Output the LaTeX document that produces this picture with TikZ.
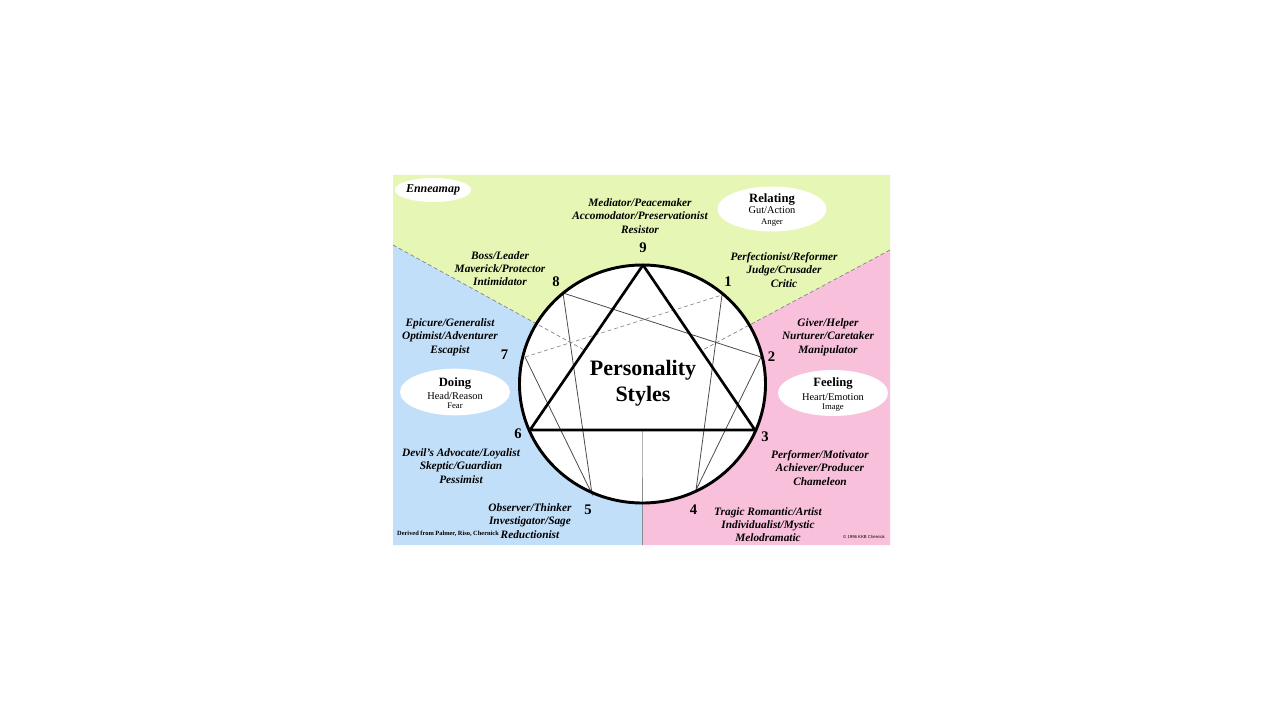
\documentclass[tikz,border=0pt]{standalone}
\usepackage{fontspec}
\setmainfont{Liberation Serif}
\newfontfamily\smallsans{Liberation Sans}
\usetikzlibrary{shapes.geometric}
\definecolor{gutgreen}{RGB}{230,246,180}
\definecolor{headblue}{RGB}{194,223,250}
\definecolor{heartpink}{RGB}{249,192,220}
\begin{document}
\begin{tikzpicture}[x=0.75pt,y=-0.75pt,
    typ/.style={font=\fontsize{8.5}{10}\selectfont\bfseries\itshape,align=center,inner sep=0pt},
    num/.style={font=\fontsize{11}{12}\selectfont\bfseries,inner sep=0pt},
    oval/.style={ellipse,fill=white,inner sep=0pt},
    centre/.style={font=\fontsize{9.5}{10}\selectfont\bfseries,inner sep=0pt,anchor=base},
    sub/.style={font=\fontsize{7.8}{9}\selectfont,inner sep=0pt,anchor=base},
    subsub/.style={font=\fontsize{6.5}{7}\selectfont,inner sep=0pt,anchor=base},
    arm/.style={line width=.6pt,draw=black!70},
    side/.style={line width=2pt,line join=round},
    seam/.style={draw=black!50,line width=.5pt,densely dashed}]
\useasboundingbox (0,0) rectangle (1280,720);
\fill[white] (0,0) rectangle (1280,720);
\coordinate (nw) at (393,175);
\coordinate (ne) at (890,175);
\coordinate (sw) at (393,545);
\coordinate (se) at (890,545);
\coordinate (c) at (642.5,382);
\coordinate (lray) at (393,245);
\coordinate (rray) at (890,250);
\coordinate (bray) at (642.5,545);
\fill[gutgreen] (nw) -- (ne) -- (rray) -- (c) -- (lray) -- cycle;
\fill[headblue] (lray) -- (c) -- (bray) -- (sw) -- cycle;
\fill[heartpink] (rray) -- (c) -- (bray) -- (se) -- cycle;
\fill[white] (642.5,384) ellipse [x radius=123,y radius=119];
\coordinate (p9) at (643,265);
\coordinate (p1) at (722,295);
\coordinate (p2) at (761,357);
\coordinate (p3) at (755,430);
\coordinate (p4) at (696,490);
\coordinate (p5) at (592,494);
\coordinate (p6) at (530,430);
\coordinate (p7) at (525,357);
\coordinate (p8) at (563,293);
\draw[seam] (lray) -- (intersection of p9--p6 and c--lray);
\draw[seam] (rray) -- (intersection of p9--p3 and c--rray);
\draw[draw=black!45,line width=.5pt] (bray) -- (intersection of p6--p3 and c--bray);
\draw[arm] (p1) -- (p4) -- (p2) -- (p8) -- (p5) -- (p7);
\draw[draw=black!45,line width=.5pt,densely dashed] (p7) -- (p1);
\draw[side] (p9) -- (p3) -- (p6) -- cycle;
\draw[line width=2.2pt] (642.5,384) ellipse [x radius=123,y radius=119];
\node[font=\fontsize{16.5}{19.5}\selectfont\bfseries,align=center] (title) at (643,383) {Personality\\Styles};
\node[num] (n9) at (643,248) {9};
\node[num] (n1) at (728,282) {1};
\node[num] (n2) at (771.5,356.5) {2};
\node[num] (n3) at (765,436.5) {3};
\node[num] (n4) at (693.5,510) {4};
\node[num] (n5) at (588,510) {5};
\node[num] (n6) at (518,433.5) {6};
\node[num] (n7) at (504.5,355) {7};
\node[num] (n8) at (556,282) {8};
\node[typ] (t9) at (640,216) {Mediator/Peacemaker\\Accomodator/Preservationist\\Resistor};
\node[typ] (t1) at (784,270) {Perfectionist/Reformer\\Judge/Crusader\\Critic};
\node[typ] (t2) at (828,337) {Giver/Helper\\Nurturer/Caretaker\\Manipulator};
\node[typ] (t3) at (820,468) {Performer/Motivator\\Achiever/Producer\\Chameleon};
\node[typ] (t4) at (768,524.5) {Tragic Romantic/Artist\\Individualist/Mystic\\Melodramatic};
\node[typ] (t5) at (530,521) {Observer/Thinker\\Investigator/Sage\\Reductionist};
\node[typ] (t6) at (461,466) {Devil's Advocate/Loyalist\\Skeptic/Guardian\\Pessimist};
\node[typ] (t7) at (450,337) {Epicure/Generalist\\Optimist/Adventurer\\Escapist};
\node[typ] (t8) at (500,268.5) {Boss/Leader\\Maverick/Protector\\Intimidator};
\node[oval,minimum width=52.5pt,minimum height=18pt,font=\fontsize{9}{10}\selectfont\bfseries\itshape] (map) at (433,190) {Enneamap};
\node[oval,minimum width=81.75pt,minimum height=33.75pt] (relating) at (772,209) {};
\node[centre] (relating-t) at (772,202.5) {Relating};
\node[sub] (relating-s) at (772,213.5) {Gut/Action};
\node[subsub] (relating-f) at (772,224.6) {Anger};
\node[oval,minimum width=82.5pt,minimum height=35pt] (doing) at (455,392) {};
\node[centre] (doing-t) at (455,386) {Doing};
\node[sub] (doing-s) at (455,399.2) {Head/Reason};
\node[subsub] (doing-f) at (455,408.6) {Fear};
\node[oval,minimum width=82.5pt,minimum height=34.5pt] (feeling) at (833,393) {};
\node[centre] (feeling-t) at (833,386) {Feeling};
\node[sub] (feeling-s) at (833,400.2) {Heart/Emotion};
\node[subsub] (feeling-f) at (833,409.6) {Image};
\node[font=\fontsize{4.8}{5}\selectfont\bfseries,inner sep=0pt] (source) at (448,534) {Derived from Palmer, Riso, Chernick};
\node[font=\fontsize{3.2}{4}\selectfont\smallsans,inner sep=0pt] (copy) at (864,537) {\textcopyright{} 1996 KKB Chernick};
\end{tikzpicture}
\end{document}
